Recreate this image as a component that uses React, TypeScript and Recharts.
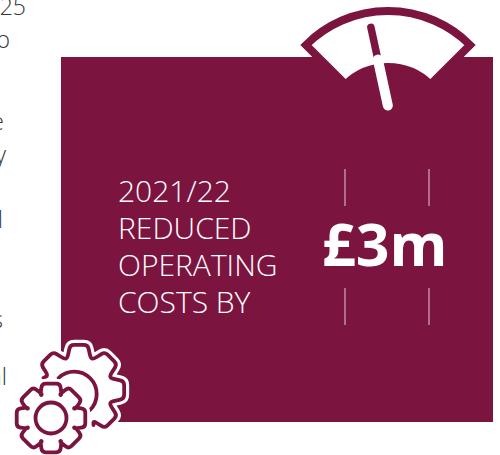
import { Cell, Pie, PieChart } from "recharts";

const panelLines = ["2021/22", "REDUCED", "OPERATING", "COSTS BY"];
const headline = "£3m";
const cutOffText = ["25", "o", "e", "y", "l", "s", "al"];
const gaugeValues = [100];
const needleValue = 36.4;

const MAROON = "#7c1440";
const FONT = "'Open Sans', sans-serif";

const cx = 388;
const cy = 127;
const startAngle = 135;
const endAngle = 45;

const cutOffX = [26, 10, 4, 6, 3, 3, 7];
const cutOffY = [15, 48, 130, 163, 228, 328, 385];
const panelLineY = [202, 239, 276, 313];

// outline of a cog, corners are softened so it reads wavy like the icon
function cogPoints(x: number, y: number, outer: number, inner: number, tipW: number, baseW: number, from: number, teeth: number) {
  const pts: number[][] = [];
  const polar = (deg: number, r: number) => [x + r * Math.cos((deg * Math.PI) / 180), y + r * Math.sin((deg * Math.PI) / 180)];
  for (let i = 0; i < teeth; i++) {
    const a = from + i * 45;
    pts.push(polar(a - baseW, inner), polar(a - tipW, outer), polar(a + tipW, outer), polar(a + baseW, inner));
  }
  return pts;
}

function softPath(pts: number[][], closed: boolean, soft = 4) {
  const n = pts.length;
  const toward = (a: number[], b: number[]) => {
    const d = Math.hypot(b[0] - a[0], b[1] - a[1]);
    const t = Math.min(soft / d, 0.5);
    return [a[0] + (b[0] - a[0]) * t, a[1] + (b[1] - a[1]) * t];
  };
  let d = "";
  for (let i = 0; i < n; i++) {
    const p = pts[i];
    const prev = pts[(i - 1 + n) % n];
    const next = pts[(i + 1) % n];
    if (!closed && i === 0) {
      d += `M${p[0]},${p[1]}`;
    } else if (!closed && i === n - 1) {
      d += `L${p[0]},${p[1]}`;
    } else {
      const a = toward(p, prev);
      const b = toward(p, next);
      d += `${i === 0 ? "M" : "L"}${a[0]},${a[1]}Q${p[0]},${p[1]} ${b[0]},${b[1]}`;
    }
  }
  return closed ? d + "Z" : d;
}

function Gears() {
  const bigAll = cogPoints(79, 390, 46, 34, 11, 20, -135, 8);
  const bigOpen = [
    [43.5, 378],
    ...cogPoints(79, 390, 46, 34, 11, 20, -135, 5),
    [93.5, 425],
  ];
  const small = softPath(cogPoints(51, 418, 35.5, 25, 15, 25, -90, 8), true);
  return (
    <g>
      <path d={softPath(bigAll, true)} fill="#fff" stroke="#fff" strokeWidth={10} strokeLinejoin="round" />
      <path d={softPath(bigOpen, false)} fill="none" stroke={MAROON} strokeWidth={3.8} strokeLinecap="round" strokeLinejoin="round" />
      <path d="M58.5,378 A20,20 0 0 1 90,410" fill="none" stroke={MAROON} strokeWidth={3.8} strokeLinecap="round" />
      <path d={small} fill="#fff" stroke="#fff" strokeWidth={10} strokeLinejoin="round" />
      <path d={small} fill="#fff" stroke={MAROON} strokeWidth={3.8} strokeLinejoin="round" />
      <circle cx={51} cy={418} r={15.5} fill="none" stroke={MAROON} strokeWidth={3.8} />
    </g>
  );
}

function Needle() {
  const deg = startAngle - (needleValue / 100) * (startAngle - endAngle);
  const ux = Math.cos((deg * Math.PI) / 180);
  const uy = -Math.sin((deg * Math.PI) / 180);
  const ox = cx + 4.5;
  return (
    <g strokeLinecap="round">
      <line x1={ox + ux * 102} y1={cy + uy * 102} x2={ox + ux * 68} y2={cy + uy * 68} stroke={MAROON} strokeWidth={7.5} />
      <line x1={ox + ux * 69} y1={cy + uy * 69} x2={ox + ux * 22} y2={cy + uy * 22} stroke="#fff" strokeWidth={10} />
    </g>
  );
}

export default function App() {
  const data = gaugeValues.map((value) => ({ value }));
  return (
    <div style={{ position: "absolute", left: 0, top: 0, width: 500, height: 455, overflow: "hidden", background: "#fff" }}>
      <PieChart width={500} height={455} margin={{ top: 0, right: 0, bottom: 0, left: 0 }}>
        <rect x={61} y={57} width={432} height={365} fill={MAROON} />
        <Pie
          data={data}
          dataKey="value"
          cx={cx}
          cy={cy}
          innerRadius={60}
          outerRadius={116}
          startAngle={startAngle}
          endAngle={endAngle}
          stroke={MAROON}
          strokeWidth={8}
          isAnimationActive={false}
        >
          {data.map((_, i) => (
            <Cell key={i} fill="#fff" stroke={MAROON} strokeWidth={8} />
          ))}
        </Pie>
      </PieChart>
      <svg width={500} height={455} style={{ position: "absolute", left: 0, top: 0 }}>
        <Needle />
        <g opacity={0.99}>
          {cutOffText.map((t, i) => (
            <text key={i} x={cutOffX[i]} y={cutOffY[i]} textAnchor="end" fontFamily={FONT} fontWeight={300} fontSize={23} fill="#333">
              {t}
            </text>
          ))}
        </g>
        {panelLines.map((t, i) => (
          <text key={t} x={118} y={panelLineY[i]} fontFamily={FONT} fontWeight={300} fontSize={30} fill="#fff">
            {t}
          </text>
        ))}
        <text x={322} y={266} fontFamily={FONT} fontWeight={700} fontSize={59} fill="#fff">
          {headline}
        </text>
        {[345, 429].map((x) => (
          <g key={x} stroke="#e6c6d2" strokeWidth={1}>
            <line x1={x} x2={x} y1={169} y2={206} />
            <line x1={x} x2={x} y1={288} y2={325} />
          </g>
        ))}
        <Gears />
      </svg>
    </div>
  );
}
